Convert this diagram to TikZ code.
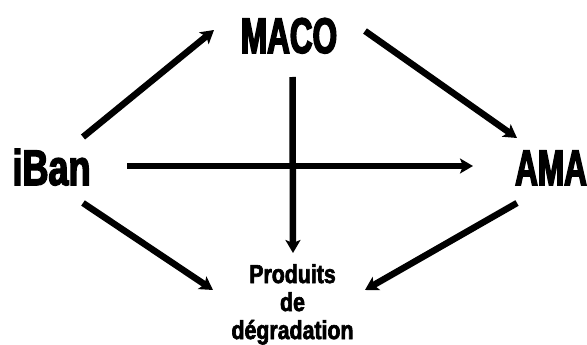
\documentclass[tikz,border=0pt]{standalone}
\usepackage{fontspec}
\usetikzlibrary{arrows.meta,calc}
\newfontfamily\impA{Liberation Sans}[FakeStretch=0.63,BoldFeatures={FakeBold=3}]
\newfontfamily\impB{Liberation Sans}[FakeStretch=0.72,BoldFeatures={FakeBold=3}]
\newfontfamily\impC{Liberation Sans}[FakeStretch=0.82,BoldFeatures={FakeBold=2.5}]
\begin{document}
\begin{tikzpicture}[x=1pt,y=-1pt,
  big/.style={inner sep=0pt,anchor=base,font={\impA\bfseries\fontsize{50}{50}\selectfont}},
  conn/.style={line width=6.5pt,-{Stealth[length=13pt,width=15pt,inset=3pt]}}]
\useasboundingbox[fill=white] (0,0) rectangle (587,345);
\node[big] (maco) at (289,53) {MACO};
\node[big,font={\impB\bfseries\fontsize{50}{50}\selectfont}] (iban) at (51.5,185) {iBan};
\node[big] (ama) at (551,185) {AMA};
\node[inner sep=0pt,anchor=north,align=center,font={\impC\bfseries\fontsize{26}{28}\selectfont}] (prod) at (292.5,264) {Produits\\de\\dégradation};
\draw[conn] ([shift={(31.5,-48)}]iban.base) -- ([shift={(-75,-23)}]maco.base);
\draw[conn] ([shift={(76,-22)}]maco.base) -- ([shift={(-34,-47)}]ama.base);
\draw[conn] ([shift={(75.5,-19)}]iban.base) -- ([shift={(-78,-19)}]ama.base);
\draw[conn] ([shift={(3.5,24)}]maco.base) -- ([shift={(0.5,-11)}]prod.north);
\draw[conn] ([shift={(31.5,18)}]iban.base) -- ([shift={(-79.5,26)}]prod.north);
\draw[conn] ([shift={(-34,18)}]ama.base) -- ([shift={(72.5,26)}]prod.north);
\end{tikzpicture}
\end{document}
